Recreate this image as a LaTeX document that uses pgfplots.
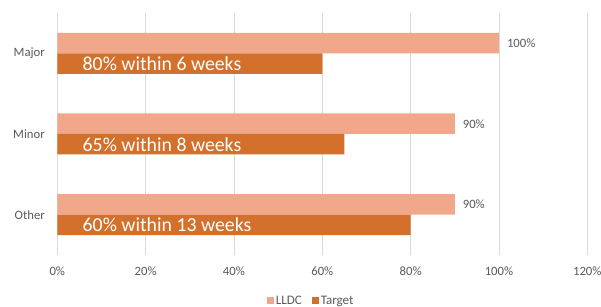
\documentclass[border=0pt]{standalone}
\usepackage{pgfplots}
\pgfplotsset{compat=1.18}
\usepackage{fontspec}
\setmainfont{Carlito}
\definecolor{lldc}{RGB}{241,168,138}
\definecolor{target}{RGB}{210,112,44}
\definecolor{gridc}{RGB}{217,217,217}
\definecolor{txt}{RGB}{89,89,89}
\begin{document}
\begin{tikzpicture}[x=1pt,y=1pt]
\useasboundingbox (-57.3,-52) rectangle (543.7,255);
\begin{axis}[
 at={(0,0)}, anchor=south west,
 scale only axis, width=530pt, height=242pt,
 xbar, bar width=20.5pt,
 /pgf/number format/assume math mode=true,
 xmin=0, xmax=120, ymin=-0.5, ymax=2.5,
 xtick={0,20,...,120}, xticklabels={0\%,20\%,40\%,60\%,80\%,100\%,120\%},
 ytick={0,1,2}, yticklabels={Other,Minor,Major},
 xmajorgrids, major grid style={gridc, line width=0.8pt},
 axis line style={draw=none}, major tick length=0,
 tick label style={font=\fontsize{12.7}{14}\selectfont, text=txt},
 xticklabel style={yshift=-8pt},
 yticklabel style={xshift=-9pt},
 legend style={at={(0.479,-0.19)}, anchor=center, draw=none, fill=none, legend columns=2,
   font=\fontsize{13}{14}\selectfont, text=txt,
   /tikz/every even column/.append style={column sep=8pt}},
 legend image code/.code={\fill[#1] (0pt,-3.5pt) rectangle (7pt,3.5pt);},
]
\addplot[fill=lldc, draw=none, bar shift=10.25pt, point meta=x,
  nodes near coords={\pgfmathprintnumber{\pgfplotspointmeta}\%},
  nodes near coords style={anchor=west, xshift=4.5pt, font=\fontsize{12.7}{14}\selectfont, text=txt}]
  coordinates {(90,0) (90,1) (100,2)};
\addplot[fill=target, draw=none, bar shift=-10.25pt]
  coordinates {(80,0) (65,1) (60,2)};
\legend{LLDC, Target}
\node[anchor=west, inner sep=0pt, text=white, font=\fontsize{19.8}{22}\selectfont, yshift=-10.25pt] at (axis cs:5.7,2) {80\% within 6 weeks};
\node[anchor=west, inner sep=0pt, text=white, font=\fontsize{19.8}{22}\selectfont, yshift=-10.25pt] at (axis cs:5.7,1) {65\% within 8 weeks};
\node[anchor=west, inner sep=0pt, text=white, font=\fontsize{19.8}{22}\selectfont, yshift=-10.25pt] at (axis cs:5.7,0) {60\% within 13 weeks};
\end{axis}
\end{tikzpicture}
\end{document}
